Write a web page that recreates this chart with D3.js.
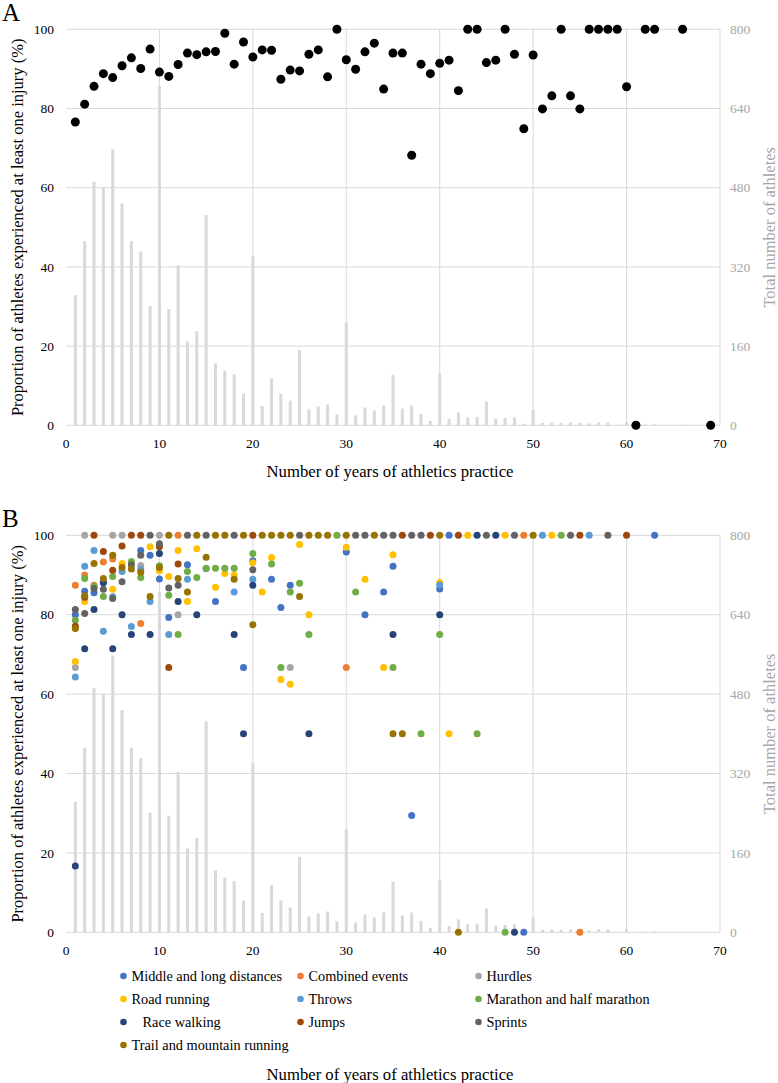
<!DOCTYPE html>
<html>
<head>
<meta charset="utf-8">
<script src="https://cdn.jsdelivr.net/npm/d3@7"></script>
<style>
  html, body { margin: 0; padding: 0; background: #fff; }
  svg { display: block; }
  text { font-family: "Liberation Serif", "Times New Roman", serif; }
</style>
</head>
<body>
<svg id="chart" width="778" height="1083"></svg>
<script>
// ---------------- DATA ----------------
const barYears = [1,2,3,4,5,6,7,8,9,10,11,12,13,14,15,16,17,18,19,20,21,22,23,24,25,26,27,28,29,30,31,32,33,34,35,36,37,38,39,40,41,42,43,44,45,46,47,48,49,50,51,52,53,54,55,56,57,58,59,60,61,62,63,64,65,66,67,68,69];
const athletes = [263,372,492,480,558,448,372,351,241,686,235,323,169,190,425,125,110,103,64,341,39,95,64,50,152,32,38,42,22,208,20,36,30,40,102,34,40,23,9,105,13,26,16,17,48,13,15,16,3,31,5,6,5,6,5,4,6,6,1,7,1,2,2,0,0,1,0,0,1];

const overallYears = [1,2,3,4,5,6,7,8,9,10,11,12,13,14,15,16,17,18,19,20,21,22,23,24,25,26,27,28,29,30,31,32,33,34,35,36,37,38,39,40,41,42,43,44,45,46,47,48,49,50,51,52,53,54,55,56,57,58,59,60,61,62,63,66,69];
const overallPct = [76.6,81.1,85.6,88.8,87.8,90.8,92.8,90.1,95.0,89.2,88.1,91.1,94.0,93.6,94.3,94.4,99.0,91.2,96.8,93.0,94.8,94.7,87.4,89.7,89.5,93.7,94.8,88.0,100,92.3,89.9,94.3,96.5,84.9,94.0,94.0,68.2,91.2,88.8,91.4,92.2,84.5,100,100,91.6,92.2,100,93.7,74.9,93.5,79.9,83.2,100,83.2,79.9,100,100,100,100,85.5,0,100,100,100,0];

const seriesNames = ["Middle and long distances","Combined events","Hurdles","Road running","Throws","Marathon and half marathon","Race walking","Jumps","Sprints","Trail and mountain running"];
const seriesColors = ["#4472C4","#ED7D31","#A5A5A5","#FFC000","#5B9BD5","#70AD47","#264478","#9E480E","#636363","#997300"];

const middleLong = [[1,80],[2,85.9],[3,85.5],[4,88.1],[8,96.2],[9,95.0],[10,89.0],[11,79.3],[13,92.6],[16,83.3],[19,66.7],[20,93.6],[22,88.9],[23,81.8],[24,87.4],[30,95.8],[32,80],[34,85.7],[35,92.2],[37,29.4],[40,86.5],[41,100],[49,0],[63,100]];
const combinedEvents = [[1,87.4],[2,90.0],[3,87.4],[4,93.3],[5,94.0],[8,77.8],[12,100],[30,66.7],[49,100],[55,0]];
const hurdles = [[1,66.7],[2,100],[5,100],[6,100],[8,92.4],[10,100],[12,80.0],[24,66.7]];
const roadRunning = [[1,68.2],[2,83.3],[5,86.4],[6,92.9],[9,97.1],[10,91.1],[11,89.6],[12,96.2],[13,83.3],[14,96.6],[16,86.9],[17,90.4],[18,90.0],[20,93.1],[21,85.7],[22,94.4],[23,63.7],[24,62.5],[25,97.7],[26,80.0],[30,97.0],[32,88.9],[34,66.7],[35,95.1],[40,88.1],[41,50],[43,100],[47,100],[52,100]];
const throws = [[1,64.3],[2,92.2],[3,96.2],[4,75.8],[5,84.5],[6,90.9],[7,77.0],[8,91.4],[9,83.3],[11,75.0],[13,88.9],[15,91.6],[18,85.7],[20,88.9],[40,87.5],[51,100],[56,100]];
const marathon = [[1,78.6],[2,89.1],[3,87.1],[4,84.6],[5,89.6],[7,93.4],[8,89.4],[10,92.3],[11,84.9],[12,75.0],[13,90.9],[14,89.4],[15,91.7],[16,91.7],[17,91.7],[18,91.7],[20,95.4],[22,92.8],[23,66.7],[24,85.7],[25,87.9],[26,75.0],[29,100],[31,85.7],[35,66.7],[38,50],[40,75.0],[44,50],[47,0],[53,100]];
const raceWalking = [[1,16.7],[2,71.4],[3,81.3],[4,88.1],[5,71.4],[6,80.0],[7,75.0],[9,75.0],[10,95.4],[12,83.3],[14,80.0],[18,75.0],[19,50],[20,87.4],[26,50],[35,75.0],[40,80.0],[44,100],[46,100],[48,0]];
const jumps = [[1,77.1],[2,84.4],[3,100],[4,95.9],[5,91.2],[6,97.3],[7,100],[8,100],[10,97.1],[11,66.7],[12,92.8],[20,100],[36,100],[39,100],[42,100],[55,100],[60,100]];
const sprints = [[1,81.3],[2,80.3],[3,86.6],[4,86.4],[5,84.1],[6,88.3],[7,92.6],[8,95.0],[9,100],[10,97.9],[11,86.7],[12,87.4],[13,100],[15,100],[18,100],[20,91.3],[25,100],[31,100],[32,100],[34,100],[35,100],[37,100],[38,100],[45,100],[48,100],[54,100],[58,100]];
const trail = [[1,76.5],[2,84.8],[3,92.9],[4,89.1],[5,95.0],[6,91.9],[7,91.5],[8,90.7],[9,84.6],[10,91.9],[11,100],[12,89.1],[13,85.7],[14,100],[15,94.5],[16,100],[17,100],[18,88.9],[19,100],[20,77.5],[21,100],[22,100],[23,100],[24,100],[25,84.6],[26,100],[27,100],[28,100],[30,100],[33,100],[35,50],[36,50],[40,100],[42,0],[50,100]];
const seriesData = [middleLong, combinedEvents, hurdles, roadRunning, throws, marathon, raceWalking, jumps, sprints, trail];

const xTicks = [0,10,20,30,40,50,60,70];
const leftTicks = [0,20,40,60,80,100];
const rightTicks = [0,160,320,480,640,800];

// ---------------- DRAW ----------------
const svg = d3.select("#chart");
const FONT = "'Liberation Serif','Times New Roman',serif";
const gridColor = "#d9d9d9";
const greyText = "#a6a6a6";
const x = d3.scaleLinear().domain([0,70]).range([66,720]);

function panel(top, bottom, label, labelY, titleY, tickLabelY) {
  const yL = d3.scaleLinear().domain([0,100]).range([bottom, top]);
  const yR = d3.scaleLinear().domain([0,800]).range([bottom, top]);
  const g = svg.append("g");

  g.selectAll("line.h").data(leftTicks).enter().append("line")
    .attr("x1", x(0)).attr("x2", x(70))
    .attr("y1", d => yL(d)).attr("y2", d => yL(d))
    .attr("stroke", gridColor).attr("stroke-width", 1);
  g.selectAll("line.v").data(xTicks.filter(d => d > 0)).enter().append("line")
    .attr("x1", d => x(d)).attr("x2", d => x(d))
    .attr("y1", yL(0)).attr("y2", yL(100))
    .attr("stroke", gridColor).attr("stroke-width", 1);

  g.selectAll("rect.bar").data(barYears).enter().append("rect")
    .attr("x", d => x(d) - 1.5).attr("width", 3)
    .attr("y", (d,i) => yR(athletes[i]))
    .attr("height", (d,i) => yR(0) - yR(athletes[i]))
    .attr("fill", "#d9d9d9");

  g.selectAll("text.lt").data(leftTicks).enter().append("text")
    .attr("x", 54).attr("y", d => yL(d)).attr("dy", "0.35em")
    .attr("text-anchor", "end").attr("font-size", 13.5).attr("fill", "#000")
    .attr("font-family", FONT)
    .text(d => d);
  g.selectAll("text.rt").data(rightTicks).enter().append("text")
    .attr("x", 730).attr("y", d => yR(d)).attr("dy", "0.35em")
    .attr("text-anchor", "start").attr("font-size", 13.5).attr("fill", greyText)
    .attr("font-family", FONT)
    .text(d => d);
  g.selectAll("text.xt").data(xTicks).enter().append("text")
    .attr("x", d => x(d)).attr("y", tickLabelY).attr("dy", "0.35em")
    .attr("text-anchor", "middle").attr("font-size", 13.5).attr("fill", "#000")
    .attr("font-family", FONT)
    .text(d => d);

  const mid = (top + bottom) / 2;
  g.append("text")
    .attr("transform", `translate(17,${mid}) rotate(-90)`)
    .attr("dy", "0.35em").attr("text-anchor", "middle")
    .attr("font-size", 16.5).attr("font-family", FONT).attr("fill", "#000")
    .text("Proportion of athletes experienced at least one injury (%)");
  g.append("text")
    .attr("transform", `translate(769,${mid}) rotate(-90)`)
    .attr("dy", "0.35em").attr("text-anchor", "middle")
    .attr("font-size", 16.5).attr("font-family", FONT).attr("fill", greyText)
    .text("Total number of athletes");
  g.append("text")
    .attr("x", 390).attr("y", titleY).attr("dy", "0.35em")
    .attr("text-anchor", "middle")
    .attr("font-size", 16.7).attr("font-family", FONT).attr("fill", "#000")
    .text("Number of years of athletics practice");
  g.append("text")
    .attr("x", 2).attr("y", labelY)
    .attr("font-size", 25).attr("font-family", FONT).attr("fill", "#000")
    .text(label);
  return {g, yL, yR};
}

// Panel A
const A = panel(29.3, 425.3, "A", 21, 471, 443);
A.g.selectAll("circle.overall").data(overallYears).enter().append("circle")
  .attr("cx", d => x(d)).attr("cy", (d,i) => A.yL(overallPct[i]))
  .attr("r", 4.5).attr("fill", "#000");

// Panel B
const B = panel(535.3, 932.3, "B", 527, 1074, 950);
seriesData.forEach((arr, si) => {
  B.g.selectAll(null).data(arr).enter().append("circle")
    .attr("cx", d => x(d[0])).attr("cy", d => B.yL(d[1]))
    .attr("r", 3.5).attr("fill", seriesColors[si]);
});

// Legend
const legendCols = [123.5, 300.5, 478.5];
const legendRows = [976, 999, 1022, 1045];
const legend = svg.append("g");
seriesNames.forEach((name, i) => {
  const col = i % 3, row = Math.floor(i / 3);
  const lx = legendCols[col], ly = legendRows[row];
  legend.append("circle").attr("cx", lx).attr("cy", ly).attr("r", 3.3).attr("fill", seriesColors[i]);
  legend.append("text")
    .attr("x", lx + 8 + (name === "Race walking" ? 11 : 0)).attr("y", ly).attr("dy", "0.35em")
    .attr("font-size", 14.3).attr("font-family", FONT).attr("fill", "#000")
    .text(name);
});
</script>
</body>
</html>
